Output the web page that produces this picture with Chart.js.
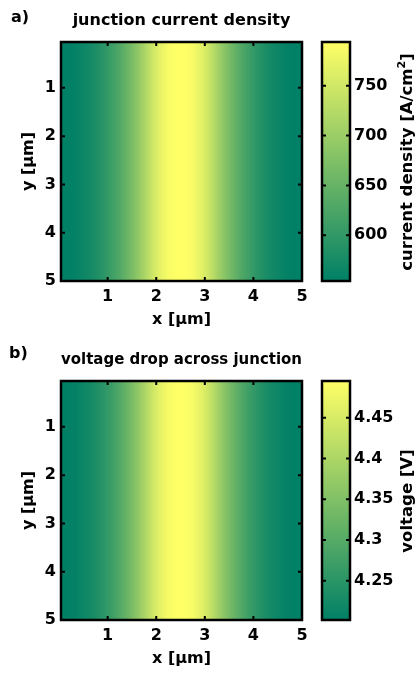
<!DOCTYPE html>
<html>
<head>
<meta charset="utf-8">
<script src="https://cdn.jsdelivr.net/npm/chart.js@4.4.0/dist/chart.umd.min.js"></script>
<style>
  body { margin: 0; background: #fff; }
  #fig { position: relative; width: 415px; height: 673px; overflow: hidden;
         font-family: 'DejaVu Sans'; font-weight: bold; font-size: 16px; color: #000; }
  canvas { position: absolute; }
  .lab { position: absolute; line-height: 16px; white-space: nowrap; }
  .cbl { position: absolute; line-height: 16px; white-space: nowrap; font-size: 16.5px;
         transform: translate(-50%, -50%) rotate(-90deg); }
  .cbl sup { font-size: 11px; line-height: 0; vertical-align: 7px; }
</style>
</head>
<body>
<div id="fig">
  <canvas id="heatA" width="315" height="330" style="left:0;top:0;width:315px;height:330px"></canvas>
  <canvas id="barA" width="100" height="330" style="left:315px;top:0;width:100px;height:330px"></canvas>
  <canvas id="heatB" width="315" height="330" style="left:0;top:339px;width:315px;height:330px"></canvas>
  <canvas id="barB" width="100" height="330" style="left:315px;top:339px;width:100px;height:330px"></canvas>
  <div class="lab" style="left:11px;top:9px">a)</div>
  <div class="lab" style="left:9px;top:345px">b)</div>
  <div class="cbl" style="left:407px;top:162px">current density [A/cm<sup>2</sup>]</div>
  <div class="cbl" style="left:407px;top:501px">voltage [V]</div>
</div>
<script>
// column centres along x [um]
const xCenters = [0.05, 0.15, 0.25, 0.35, 0.45, 0.55, 0.65, 0.75, 0.85, 0.95,
                  1.05, 1.15, 1.25, 1.35, 1.45, 1.55, 1.65, 1.75, 1.85, 1.95,
                  2.05, 2.15, 2.25, 2.35, 2.45, 2.55, 2.65, 2.75, 2.85, 2.95,
                  3.05, 3.15, 3.25, 3.35, 3.45, 3.55, 3.65, 3.75, 3.85, 3.95,
                  4.05, 4.15, 4.25, 4.35, 4.45, 4.55, 4.65, 4.75, 4.85, 4.95];
const yExtent = [0, 5];

// junction current density [A/cm2], constant along y
const currentDensity = [554, 554, 556, 559, 564, 568, 573, 580, 588, 597,
                        607, 619, 631, 645, 660, 676, 693, 712, 732, 751,
                        765, 777, 787, 792, 794, 794, 792, 787, 777, 765,
                        751, 732, 712, 693, 676, 660, 645, 631, 619, 607,
                        597, 588, 580, 573, 568, 564, 559, 556, 554, 554];
// voltage drop across junction [V]
const voltage = [4.202, 4.202, 4.205, 4.208, 4.214, 4.220, 4.225, 4.234, 4.243, 4.255,
                 4.266, 4.281, 4.296, 4.313, 4.331, 4.351, 4.372, 4.395, 4.419, 4.442,
                 4.460, 4.474, 4.486, 4.492, 4.495, 4.495, 4.492, 4.486, 4.474, 4.460,
                 4.442, 4.419, 4.395, 4.372, 4.351, 4.331, 4.313, 4.296, 4.281, 4.266,
                 4.255, 4.243, 4.234, 4.225, 4.220, 4.214, 4.208, 4.205, 4.202, 4.202];

const currentRange = [554, 794];
const voltageRange = [4.202, 4.495];

const xTicks = [1, 2, 3, 4, 5];
const yTicks = [1, 2, 3, 4, 5];
const currentTicks = [600, 650, 700, 750];
const currentTickLabels = ['600', '650', '700', '750'];
const voltageTicks = [4.25, 4.3, 4.35, 4.4, 4.45];
const voltageTickLabels = ['4.25', '4.3', '4.35', '4.4', '4.45'];

Chart.defaults.font.family = 'DejaVu Sans';
Chart.defaults.font.size = 16;
Chart.defaults.font.weight = 'bold';
Chart.defaults.color = '#000';

// matlab "summer" colormap
function summer(t) {
  t = Math.max(0, Math.min(1, t));
  return 'rgb(' + Math.round(255 * t) + ',' + Math.round(127.5 + 127.5 * t) + ',102)';
}

// black box with inward ticks on every side
const frame = {
  id: 'frame',
  afterDatasetsDraw(chart) {
    const ctx = chart.ctx, a = chart.chartArea;
    const len = 4;
    ctx.save();
    ctx.strokeStyle = '#000';
    ctx.lineWidth = 2;
    Object.values(chart.scales).forEach(s => {
      if (s.options.display === false) return;
      s.ticks.forEach(t => {
        const p = s.getPixelForValue(t.value);
        ctx.beginPath();
        if (s.isHorizontal()) {
          ctx.moveTo(p, a.top); ctx.lineTo(p, a.top + len);
          ctx.moveTo(p, a.bottom); ctx.lineTo(p, a.bottom - len);
        } else {
          ctx.moveTo(a.left, p); ctx.lineTo(a.left + len, p);
          ctx.moveTo(a.right, p); ctx.lineTo(a.right - len, p);
        }
        ctx.stroke();
      });
    });
    ctx.lineWidth = 2.5;
    ctx.strokeRect(a.left, a.top, a.right - a.left, a.bottom - a.top);
    ctx.restore();
  }
};

function heatmap(id, title, values, range) {
  const norm = v => (v - range[0]) / (range[1] - range[0]);
  new Chart(document.getElementById(id), {
    type: 'bar',
    data: {
      datasets: [{
        data: xCenters.map(x => ({ x: x, y: yExtent })),
        // interpolated shading inside each column
        backgroundColor: c => {
          const i = c.dataIndex, ch = c.chart;
          if (!ch.chartArea || i === undefined) return summer(0);
          const xs = ch.scales.x;
          const n = xCenters.length;
          const xl = i > 0 ? (xCenters[i - 1] + xCenters[i]) / 2 : 2 * xCenters[0] - (xCenters[0] + xCenters[1]) / 2;
          const xr = i < n - 1 ? (xCenters[i] + xCenters[i + 1]) / 2 : 2 * xCenters[n - 1] - (xCenters[n - 2] + xCenters[n - 1]) / 2;
          const vl = i > 0 ? (values[i - 1] + values[i]) / 2 : values[i];
          const vr = i < n - 1 ? (values[i] + values[i + 1]) / 2 : values[i];
          const g = ch.ctx.createLinearGradient(xs.getPixelForValue(xl), 0, xs.getPixelForValue(xr), 0);
          g.addColorStop(0, summer(norm(vl)));
          g.addColorStop(0.5, summer(norm(values[i])));
          g.addColorStop(1, summer(norm(vr)));
          return g;
        },
        borderWidth: 0,
        barPercentage: 1,
        categoryPercentage: 1,
        inflateAmount: 0.5,
        grouped: false
      }]
    },
    options: {
      responsive: false,
      animation: false,
      events: [],
      layout: { padding: { left: 0, right: 13, top: 0, bottom: 0 } },
      plugins: {
        legend: { display: false },
        tooltip: { enabled: false },
        title: { display: true, text: title, fullSize: false,
                 padding: { top: 11, bottom: 11.8 } }
      },
      scales: {
        x: {
          type: 'linear', min: 0.04, max: 5, offset: false,
          grid: { display: false, drawTicks: false },
          border: { display: false },
          afterBuildTicks: s => { s.ticks = xTicks.map(v => ({ value: v })); },
          ticks: { padding: 6, autoSkip: false, maxRotation: 0 },
          title: { display: true, text: 'x [\u00b5m]', padding: { top: 0, bottom: 1 } },
          afterFit: s => { s.height = 49; }
        },
        y: {
          type: 'linear', reverse: true, min: 0.05, max: 5,
          grid: { display: false, drawTicks: false },
          border: { display: false },
          afterBuildTicks: s => { s.ticks = yTicks.map(v => ({ value: v })); },
          ticks: { padding: 5, autoSkip: false },
          title: { display: true, text: 'y [\u00b5m]', padding: { top: 19.4, bottom: 0 } },
          afterFit: s => { s.width = 61; }
        }
      }
    },
    plugins: [frame]
  });
}

function colorbar(id, range, ticks, labels) {
  new Chart(document.getElementById(id), {
    type: 'bar',
    data: {
      labels: ['cb'],
      datasets: [{
        data: [range],
        backgroundColor: c => {
          const ch = c.chart;
          if (!ch.chartArea) return summer(0);
          const y = ch.scales.y;
          const g = ch.ctx.createLinearGradient(0, y.getPixelForValue(range[0]), 0, y.getPixelForValue(range[1]));
          g.addColorStop(0, summer(0));
          g.addColorStop(1, summer(1));
          return g;
        },
        borderWidth: 0,
        barPercentage: 1,
        categoryPercentage: 1
      }]
    },
    options: {
      responsive: false,
      animation: false,
      events: [],
      layout: { padding: { left: 7, right: 0, top: 42, bottom: 49 } },
      plugins: { legend: { display: false }, tooltip: { enabled: false } },
      scales: {
        x: { display: false },
        y: {
          position: 'right', min: range[0], max: range[1],
          grid: { display: false, drawTicks: false },
          border: { display: false },
          afterBuildTicks: s => { s.ticks = ticks.map(v => ({ value: v })); },
          ticks: { padding: 4, autoSkip: false, callback: (v, i) => labels[i] },
          afterFit: s => { s.width = 65; }
        }
      }
    },
    plugins: [frame]
  });
}

heatmap('heatA', 'junction current density', currentDensity, currentRange);
colorbar('barA', currentRange, currentTicks, currentTickLabels);
heatmap('heatB', 'voltage drop across junction', voltage, voltageRange);
colorbar('barB', voltageRange, voltageTicks, voltageTickLabels);
</script>
</body>
</html>
